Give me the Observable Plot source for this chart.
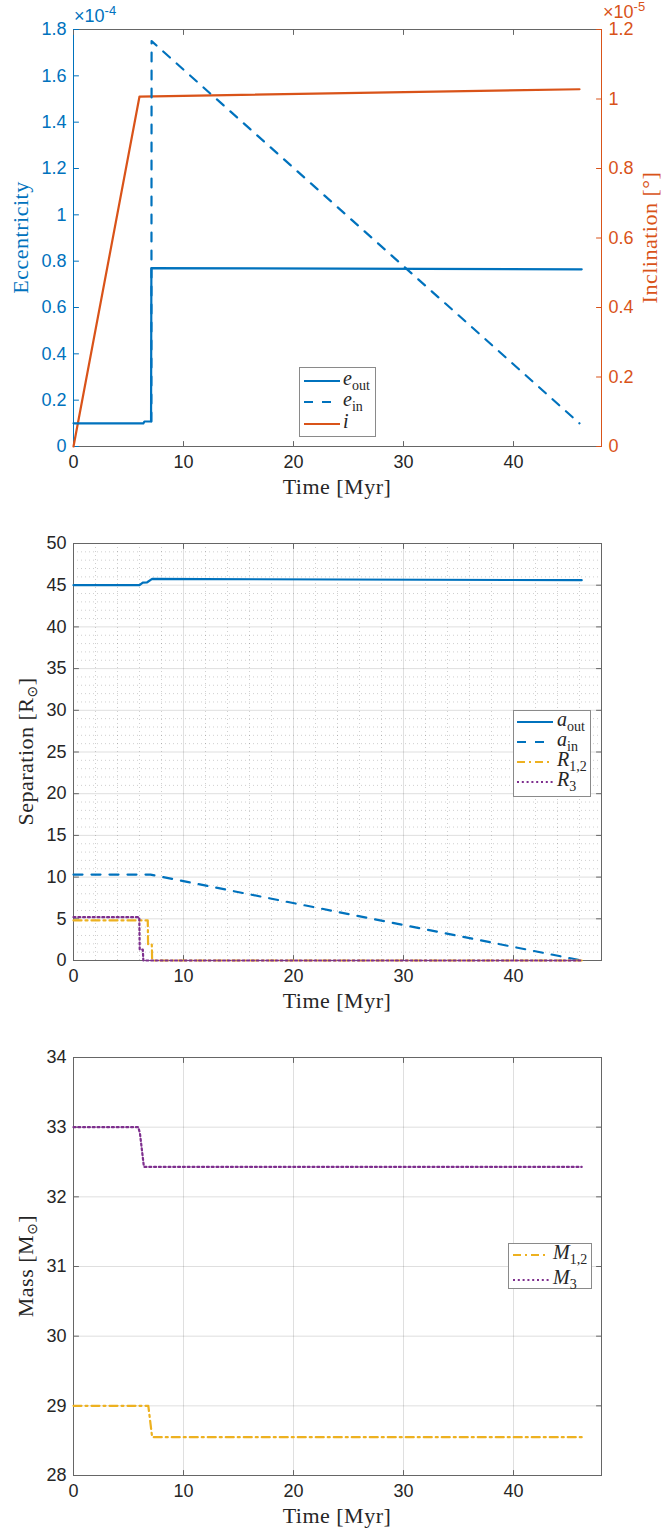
<!DOCTYPE html>
<html>
<head>
<meta charset="utf-8">
<script src="https://cdn.jsdelivr.net/npm/d3@7"></script>
<script src="https://cdn.jsdelivr.net/npm/@observablehq/plot@0.6"></script>
<style>
  body { margin: 0; background: #fff; }
  #chart { position: relative; width: 663px; height: 1532px; overflow: hidden; }
  #chart > svg { display: block; }
  .leg { position: absolute; background: #fff; border: 1px solid #8a8a8a; box-sizing: border-box;
         font-family: "Liberation Serif", "DejaVu Serif", serif; font-size: 20px; color: #262626; }
  .leg i { font-style: italic; }
  .leg sub { font-style: normal; font-size: 14px; vertical-align: -5px; line-height: 0; }
</style>
</head>
<body>
<div id="chart"></div>
<script>
// ---------------- data ----------------
// time axis (Myr)
const xDomain = [0, 48];
const xTicks = [0, 10, 20, 30, 40];

// Panel 1: eccentricity (units of 1e-4) and inclination (units of 1e-5, degrees)
const eccTicks = [0, 0.2, 0.4, 0.6, 0.8, 1, 1.2, 1.4, 1.6, 1.8];
const incTicks = [0, 0.2, 0.4, 0.6, 0.8, 1, 1.2];
const eOutTime = [0, 6.35, 6.45, 7.05, 7.08, 46.2];
const eOutVal  = [0.100, 0.100, 0.108, 0.108, 0.770, 0.765];
const eInTime  = [7.08, 7.10, 46.0];
const eInVal   = [0.108, 1.75, 0.10];
const incTime  = [0, 6.0, 46.0];
const incVal   = [0, 1.007, 1.028];

// Panel 2: separations (R_sun)
const sepTicks = [0, 5, 10, 15, 20, 25, 30, 35, 40, 45, 50];
const aOutTime = [0, 6.0, 6.3, 6.7, 7.15, 46.2];
const aOutVal  = [45.0, 45.0, 45.3, 45.35, 45.75, 45.6];
const aInTime  = [0, 7.0, 46.2];
const aInVal   = [10.3, 10.3, 0];
const r12Time  = [0, 6.75, 6.78, 7.12, 7.15, 46.2];
const r12Val   = [4.8, 4.8, 1.9, 1.9, 0, 0];
const r3Time   = [0, 5.98, 6.02, 6.30, 6.35, 46.2];
const r3Val    = [5.2, 5.2, 1.3, 1.3, 0, 0];

// Panel 3: masses (M_sun)
const massTicks = [28, 29, 30, 31, 32, 33, 34];
const m12Time = [0, 6.8, 7.15, 46.2];
const m12Val  = [29.0, 29.0, 28.55, 28.55];
const m3Time  = [0, 5.9, 6.05, 6.4, 46.2];
const m3Val   = [33.0, 33.0, 32.9, 32.43, 32.43];

// legend labels
const legend1 = ["<i>e</i><sub>out</sub>", "<i>e</i><sub>in</sub>", "<i>i</i>"];
const legend2 = ["<i>a</i><sub>out</sub>", "<i>a</i><sub>in</sub>", "<i>R</i><sub>1,2</sub>", "<i>R</i><sub>3</sub>"];
const legend3 = ["<i>M</i><sub>1,2</sub>", "<i>M</i><sub>3</sub>"];

// ---------------- styles ----------------
const blue = "#0072BD", orange = "#D95319", yellow = "#EDB120", purple = "#7E2F8E", ink = "#262626";
const frameColor = "#666";
const LW = 2.2;
const dashed = "9,9", dashdot = "8,4,2,4", dotted = "2,2.8";
const incScale = 1.8 / 1.2; // right axis (1e-5) mapped onto left axis (1e-4)
const W = 663;
const fmt = d3.format("~g");
const serif = "'Liberation Serif', 'DejaVu Serif', serif";
const sans = "'Liberation Sans', Arial, sans-serif";

const series = (ts, vs) => ts.map((t, i) => ({t, v: vs[i]}));
const tickShape = {draw(ctx, l) { ctx.moveTo(0, 0); ctx.lineTo(0, -l); }};
function inTicks(xt, yl, yr, lColor = frameColor, rColor = frameColor) {
  const o = {length: 5, anchor: "start", shape: tickShape, strokeWidth: 1};
  return [
    Plot.vector(xt, {x: d => d, frameAnchor: "bottom", rotate: 0, stroke: frameColor, ...o}),
    Plot.vector(xt, {x: d => d, frameAnchor: "top", rotate: 180, stroke: frameColor, ...o}),
    Plot.vector(yl, {y: d => d, frameAnchor: "left", rotate: 90, stroke: lColor, ...o}),
    Plot.vector(yr, {y: d => d, frameAnchor: "right", rotate: -90, stroke: rColor, ...o})
  ];
}
const style = {fontFamily: sans, fontSize: "18px", color: ink, background: "#fff", overflow: "visible"};
const xAxis = () => Plot.axisX(xTicks, {tickSize: 0, tickPadding: 9, label: null, color: ink, fontSize: 18});
const minorGrid = {stroke: ink, strokeOpacity: 0.22, strokeDasharray: "1,3"};

const chart = document.getElementById("chart");

// ---------------- panel 1 ----------------
const p1 = Plot.plot({
  width: W, height: 510, marginTop: 29, marginBottom: 64, marginLeft: 73, marginRight: 62,
  style,
  x: {domain: xDomain},
  y: {domain: [0, 1.8]},
  marks: [
    Plot.frame({stroke: frameColor, strokeWidth: 1}),
    Plot.ruleX([xDomain[0]], {stroke: blue, strokeWidth: 1}),
    Plot.ruleX([xDomain[1]], {stroke: orange, strokeWidth: 1}),
    ...inTicks(xTicks, eccTicks, incTicks.map(d => d * incScale), blue, orange),
    xAxis(),
    Plot.axisY(eccTicks, {tickSize: 0, tickPadding: 7, label: null, color: blue, tickFormat: fmt, fontSize: 18}),
    Plot.axisY(incTicks.map(d => d * incScale), {anchor: "right", tickSize: 0, tickPadding: 7, label: null,
      color: orange, tickFormat: d => fmt(d / incScale), fontSize: 18}),
    Plot.line(series(incTime, incVal), {x: "t", y: d => d.v * incScale, stroke: orange, strokeWidth: LW}),
    Plot.line(series(eOutTime, eOutVal), {x: "t", y: "v", stroke: blue, strokeWidth: LW}),
    Plot.line(series(eInTime, eInVal), {x: "t", y: "v", stroke: blue, strokeWidth: LW, strokeDasharray: dashed})
  ]
});
chart.appendChild(p1);

// ---------------- panel 2 ----------------
const p2 = Plot.plot({
  width: W, height: 530, marginTop: 33, marginBottom: 80, marginLeft: 73, marginRight: 62,
  style,
  x: {domain: xDomain},
  y: {domain: [0, 50]},
  marks: [
    Plot.gridX(d3.range(2, 48, 2).filter(d => d % 10), minorGrid),
    Plot.gridY(d3.range(1, 50, 1).filter(d => d % 5), minorGrid),
    Plot.gridX(xTicks, {stroke: ink, strokeOpacity: 0.15}),
    Plot.gridY(sepTicks, {stroke: ink, strokeOpacity: 0.15}),
    Plot.frame({stroke: frameColor, strokeWidth: 1}),
    ...inTicks(xTicks, sepTicks, sepTicks),
    xAxis(),
    Plot.axisY(sepTicks, {tickSize: 0, tickPadding: 7, label: null, color: ink, tickFormat: fmt, fontSize: 18}),
    Plot.line(series(aOutTime, aOutVal), {x: "t", y: "v", stroke: blue, strokeWidth: LW}),
    Plot.line(series(aInTime, aInVal), {x: "t", y: "v", stroke: blue, strokeWidth: LW, strokeDasharray: dashed}),
    Plot.line(series(r12Time, r12Val), {x: "t", y: "v", stroke: yellow, strokeWidth: LW, strokeDasharray: dashdot}),
    Plot.line(series(r3Time, r3Val), {x: "t", y: "v", stroke: purple, strokeWidth: LW, strokeDasharray: dotted})
  ]
});
chart.appendChild(p2);

// ---------------- panel 3 ----------------
const p3 = Plot.plot({
  width: W, height: 492, marginTop: 17, marginBottom: 57, marginLeft: 73, marginRight: 62,
  style,
  x: {domain: xDomain},
  y: {domain: [28, 34]},
  marks: [
    Plot.gridX(xTicks, {stroke: ink, strokeOpacity: 0.15}),
    Plot.gridY(massTicks, {stroke: ink, strokeOpacity: 0.15}),
    Plot.frame({stroke: frameColor, strokeWidth: 1}),
    ...inTicks(xTicks, massTicks, massTicks),
    xAxis(),
    Plot.axisY(massTicks, {tickSize: 0, tickPadding: 7, label: null, color: ink, tickFormat: fmt, fontSize: 18}),
    Plot.line(series(m12Time, m12Val), {x: "t", y: "v", stroke: yellow, strokeWidth: LW, strokeDasharray: dashdot}),
    Plot.line(series(m3Time, m3Val), {x: "t", y: "v", stroke: purple, strokeWidth: LW, strokeDasharray: dotted})
  ]
});
chart.appendChild(p3);

// ---------------- axis titles ----------------
const titleSize = 22, titleSpacing = "0.5px";
function xTitle(svg, baseline) {
  d3.select(svg).append("text").attr("x", 337).attr("y", baseline)
    .attr("text-anchor", "middle").attr("font-family", serif).attr("font-size", titleSize)
    .attr("letter-spacing", titleSpacing).attr("fill", ink)
    .text("Time [Myr]");
}
function yTitle(svg, x, cy, color, build) {
  const t = d3.select(svg).append("text").attr("transform", `translate(${x},${cy}) rotate(-90)`)
    .attr("text-anchor", "middle").attr("font-family", serif).attr("font-size", titleSize)
    .attr("letter-spacing", titleSpacing).attr("fill", color);
  build(t);
}
xTitle(p1, 494);
xTitle(p2, 498);
xTitle(p3, 483);
yTitle(p1, 28, 237.5, blue, t => t.text("Eccentricity"));
yTitle(p1, 657, 237.5, orange, t => t.text("Inclination [°]"));
yTitle(p2, 33, 241.5, ink, t => {
  t.append("tspan").text("Separation [R");
  t.append("tspan").attr("dy", 4).attr("font-size", 14).attr("font-family", "'DejaVu Sans', sans-serif").text("⊙");
  t.append("tspan").attr("dy", -4).text("]");
});
yTitle(p3, 33, 226, ink, t => {
  t.append("tspan").text("Mass [M");
  t.append("tspan").attr("dy", 4).attr("font-size", 14).attr("font-family", "'DejaVu Sans', sans-serif").text("⊙");
  t.append("tspan").attr("dy", -4).text("]");
});
// exponent labels
function expLabel(svg, x, y, color, exp) {
  const t = d3.select(svg).append("text").attr("x", x).attr("y", y).attr("text-anchor", "start")
    .attr("font-family", sans).attr("font-size", 18).attr("fill", color);
  t.append("tspan").text("×10");
  t.append("tspan").attr("dy", -7).attr("font-size", 13).text(exp);
}
expLabel(p1, 74, 22, blue, "-4");
expLabel(p1, 603, 18, orange, "-5");

// ---------------- legends ----------------
function addLegend(labels, styles, {left, top, width, height, first, step, sx0, sx1, tx}) {
  const box = d3.select(chart).append("div").attr("class", "leg")
    .style("left", left + "px").style("top", top + "px")
    .style("width", width + "px").style("height", height + "px");
  labels.forEach((lab, i) => {
    const cy = first + i * step;
    const row = box.append("div").style("position", "absolute").style("left", "0px")
      .style("top", (cy - 12) + "px").style("height", "24px").style("width", "100%");
    const s = row.append("svg").attr("width", width).attr("height", 24)
      .style("position", "absolute").style("left", "0px").style("top", "0px");
    s.append("line").attr("x1", sx0).attr("x2", sx1).attr("y1", 12).attr("y2", 12)
      .attr("stroke", styles[i].stroke).attr("stroke-width", LW)
      .attr("stroke-dasharray", styles[i].dash || null);
    row.append("div").style("position", "absolute").style("left", tx + "px").style("top", "-3px")
      .style("line-height", "24px").style("white-space", "nowrap").html(lab);
  });
}
addLegend(legend1, [{stroke: blue}, {stroke: blue, dash: dashed}, {stroke: orange}],
  {left: 299, top: 367, width: 77, height: 70, first: 12.5, step: 21.5, sx0: 4, sx1: 40, tx: 43});
addLegend(legend2, [{stroke: blue}, {stroke: blue, dash: dashed}, {stroke: yellow, dash: dashdot}, {stroke: purple, dash: dotted}],
  {left: 513, top: 710, width: 78, height: 87, first: 11, step: 20, sx0: 3, sx1: 39, tx: 43});
addLegend(legend3, [{stroke: yellow, dash: dashdot}, {stroke: purple, dash: dotted}],
  {left: 508, top: 1243, width: 84, height: 46, first: 10.5, step: 25, sx0: 4, sx1: 40, tx: 44});
</script>
</body>
</html>
